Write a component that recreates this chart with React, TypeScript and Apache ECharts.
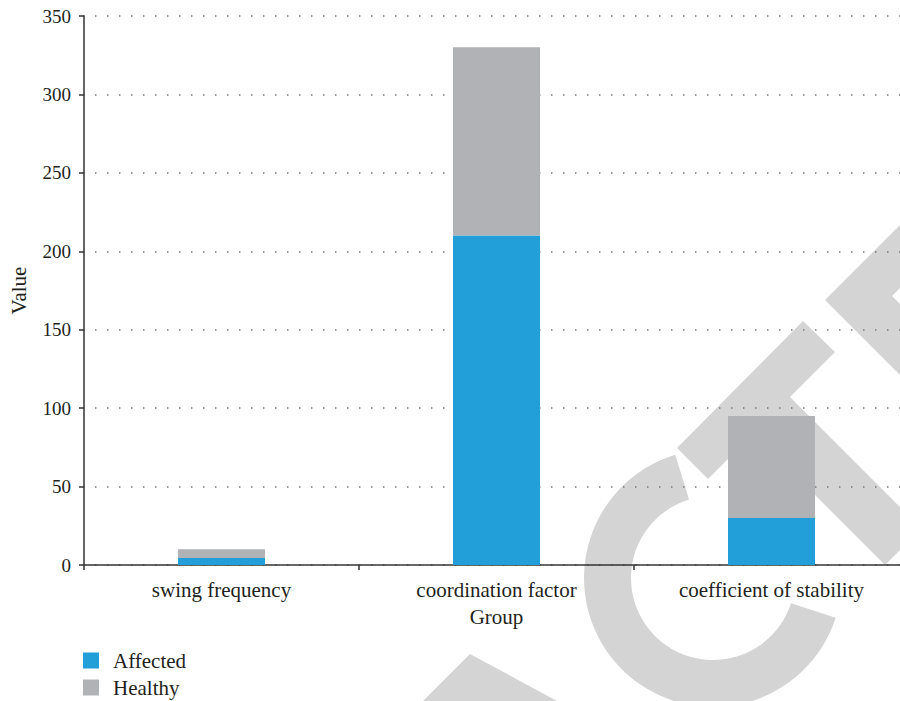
import React, { useEffect, useRef } from "react";
import * as echarts from "echarts";

const categories = ["swing frequency", "coordination factor", "coefficient of stability"];
const affected = [4.5, 210, 30];
const healthy = [5.5, 120, 65];
const seriesNames = ["Affected", "Healthy"];
const seriesColors = ["#229ED9", "#B1B2B6"];
const xAxisName = "Group";
const yAxisName = "Value";

const FONT = "Liberation Serif";
const TEXT = "#231F20";
const WM = "#D4D4D4";
const TXT_SIZE = 21;
const NUM_SIZE = 19;

export default function App() {
  const ref = useRef<HTMLDivElement>(null);
  useEffect(() => {
    if (!ref.current) return;
    const chart = echarts.init(ref.current, null, { renderer: "svg" });
    const option: any = {
      animation: false,
      backgroundColor: "#ffffff",
      textStyle: { fontFamily: FONT, color: TEXT },
      grid: {
        left: 84,
        width: 825,
        top: 16,
        height: 549,
        containLabel: false,
        outerBoundsMode: "none",
      },
      graphic: [
        {
          type: "group",
          z: -10,
          silent: true,
          children: [
            {
              type: "polygon",
              z: -10,
              shape: { points: [[423, 701], [470, 654], [557, 701]] },
              style: { fill: WM },
            },
            {
              type: "sector",
              z: -10,
              shape: {
                cx: 713,
                cy: 578,
                r0: 82,
                r: 129,
                startAngle: (18 * Math.PI) / 180,
                endAngle: (253 * Math.PI) / 180,
                clockwise: true,
              },
              style: { fill: WM },
            },
            {
              type: "polygon",
              z: -10,
              shape: {
                points: [
                  [677, 448],
                  [803, 321],
                  [835, 352],
                  [790, 397],
                  [900, 507],
                  [900, 550],
                  [885, 565],
                  [753.5, 433.5],
                  [708, 479],
                ],
              },
              style: { fill: WM },
            },
            {
              type: "polygon",
              z: -10,
              shape: {
                points: [
                  [825, 300],
                  [900, 225],
                  [900, 288],
                  [892, 296],
                  [900, 304],
                  [900, 375],
                ],
              },
              style: { fill: WM },
            },
          ],
        },
      ],
      legend: {
        orient: "vertical",
        left: 83,
        top: 648,
        height: 60,
        padding: 0,
        itemGap: 2,
        itemWidth: 16,
        itemHeight: 16,
        icon: "rect",
        align: "left",
        data: seriesNames,
        textStyle: {
          fontFamily: FONT,
          fontSize: TXT_SIZE,
          color: TEXT,
          lineHeight: 25,
          padding: [0, 0, 0, 9],
        },
      },
      xAxis: {
        type: "category",
        data: categories,
        name: xAxisName,
        nameLocation: "middle",
        nameGap: 41,
        nameTextStyle: { fontFamily: FONT, fontSize: TXT_SIZE, color: TEXT },
        axisLine: { show: true, lineStyle: { color: "#333333", width: 1.5 } },
        axisTick: { show: true, length: 5, interval: 0, lineStyle: { color: "#333333", width: 1.5 } },
        axisLabel: { interval: 0, margin: 14, fontFamily: FONT, fontSize: TXT_SIZE, color: TEXT },
      },
      yAxis: {
        type: "value",
        min: 0,
        max: 350,
        interval: 50,
        name: yAxisName,
        nameLocation: "middle",
        nameGap: 55,
        nameTextStyle: { fontFamily: FONT, fontSize: TXT_SIZE, color: TEXT },
        axisLine: { show: true, lineStyle: { color: "#333333", width: 1.5 } },
        axisTick: { show: true, length: 5, lineStyle: { color: "#333333", width: 1.5 } },
        axisLabel: { margin: 13, fontFamily: FONT, fontSize: NUM_SIZE, color: TEXT },
        splitLine: {
          show: true,
          lineStyle: { color: "#777777", width: 1.5, type: [1.5, 10.5], dashOffset: -11 },
        },
      },
      series: [
        {
          name: seriesNames[0],
          type: "bar",
          stack: "total",
          barWidth: 87,
          data: affected,
          itemStyle: { color: seriesColors[0] },
        },
        {
          name: seriesNames[1],
          type: "bar",
          stack: "total",
          barWidth: 87,
          data: healthy,
          itemStyle: { color: seriesColors[1] },
        },
      ],
    };
    chart.setOption(option);
    return () => chart.dispose();
  }, []);
  return (
    <div
      ref={ref}
      style={{ position: "fixed", left: 0, top: 0, width: 900, height: 701, background: "#fff" }}
    />
  );
}
